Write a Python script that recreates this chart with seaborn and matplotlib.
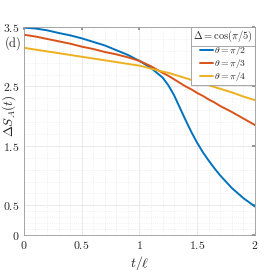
import matplotlib
matplotlib.use("Agg")
import matplotlib.pyplot as plt
import matplotlib.ticker as mticker
from matplotlib.lines import Line2D
import seaborn as sns
import pandas as pd

# values
t = [0, 0.1, 0.2, 0.3, 0.4, 0.5, 0.6, 0.7, 0.8, 0.9, 1.0, 1.1, 1.2, 1.25, 1.3,
     1.35, 1.4, 1.45, 1.5, 1.55, 1.6, 1.65, 1.7, 1.8, 1.9, 2.0]
s_pi2 = [3.49, 3.475, 3.445, 3.40, 3.36, 3.31, 3.25, 3.19, 3.11, 3.03, 2.93, 2.81,
         2.65, 2.52, 2.35, 2.14, 1.93, 1.73, 1.55, 1.39, 1.25, 1.12, 1.00, 0.79,
         0.62, 0.48]
s_pi3 = [3.37, 3.34, 3.30, 3.26, 3.22, 3.17, 3.13, 3.08, 3.04, 2.99, 2.93, 2.84,
         2.73, 2.68, 2.62, 2.56, 2.50, 2.45, 2.39, 2.34, 2.28, 2.23, 2.17, 2.07,
         1.96, 1.85]
s_pi4 = [3.15, 3.12, 3.09, 3.06, 3.03, 3.00, 2.97, 2.94, 2.91, 2.88, 2.85, 2.80,
         2.75, 2.73, 2.70, 2.67, 2.64, 2.61, 2.58, 2.55, 2.52, 2.49, 2.46, 2.40,
         2.33, 2.27]
labels = [r"$\theta=\pi/2$", r"$\theta=\pi/3$", r"$\theta=\pi/4$"]
colors = ["#0072BD", "#D95319", "#EDB120"]
xticks = [0, 0.5, 1, 1.5, 2]
yticks = [0, 0.5, 1.5, 2.5, 3.5]

df = pd.concat([
    pd.DataFrame({"t": t, "S": s, "curve": lab})
    for s, lab in zip([s_pi2, s_pi3, s_pi4], labels)
])

sns.set_theme(style="white")
plt.rcParams["mathtext.fontset"] = "cm"
plt.rcParams["font.family"] = ["DejaVu Serif"]

fig = plt.figure(figsize=(2.69, 2.73), dpi=100)
ax = fig.add_axes([0.089, 0.139, 0.859, 0.762])

sns.lineplot(data=df, x="t", y="S", hue="curve", palette=colors,
             linewidth=1.4, ax=ax)

ax.set_xlim(0, 2)
ax.set_ylim(0, 3.5)
ax.xaxis.set_major_locator(mticker.FixedLocator(xticks))
ax.xaxis.set_major_formatter(mticker.FixedFormatter([f"${v:g}$" for v in xticks]))
ax.yaxis.set_major_locator(mticker.FixedLocator(yticks))
ax.yaxis.set_major_formatter(mticker.FixedFormatter([f"${v:g}$" for v in yticks]))
ax.xaxis.set_minor_locator(mticker.MultipleLocator(0.1))
ax.yaxis.set_minor_locator(mticker.FixedLocator(
    [0.1, 0.2, 0.3, 0.4, 0.7, 0.9, 1.1, 1.3, 1.7, 1.9, 2.1, 2.3, 2.7, 2.9, 3.1, 3.3]))
ax.grid(which="major", color="#e6e6e6", linewidth=0.6)
ax.grid(which="minor", color="#e6e6e6", linewidth=0.5, linestyle=":")
ax.tick_params(which="both", direction="in", top=True, right=True,
               labelsize=8.5, length=2.5, color="#888888", pad=3)
ax.tick_params(which="minor", length=0)
for sp in ax.spines.values():
    sp.set_color("#999999")
    sp.set_linewidth(0.6)

ax.set_xlabel(r"$t/\ell$", fontsize=10, labelpad=1)
ax.set_ylabel(r"$\Delta S_A(t)$", fontsize=9.5)
ax.yaxis.set_label_coords(-0.026, 0.575)
ax.text(-0.012, 0.925, r"$\mathrm{(d)}$", transform=ax.transAxes, ha="right",
        va="center", fontsize=9)

leg = ax.legend(title=r"$\Delta=\cos(\pi/5)$", loc="upper right",
                borderaxespad=0, fontsize=7, title_fontsize=7.5,
                handlelength=1.3, handletextpad=0.15, fancybox=False,
                framealpha=1, edgecolor="#999999", borderpad=0.2,
                labelspacing=0.0)
leg.get_frame().set_linewidth(0.6)

# separator line under the legend title
fig.canvas.draw()
r = fig.canvas.get_renderer()
fb = leg.get_frame().get_window_extent(r)
tb = leg.get_title().get_window_extent(r)
inv = fig.transFigure.inverted()
(x0, y0), (x1, _) = inv.transform([(fb.x0, tb.y0 - 1.5), (fb.x1, tb.y0)])
fig.add_artist(Line2D([x0, x1], [y0, y0], color="#999999", linewidth=0.6))

fig.savefig("out.png", dpi=100)
